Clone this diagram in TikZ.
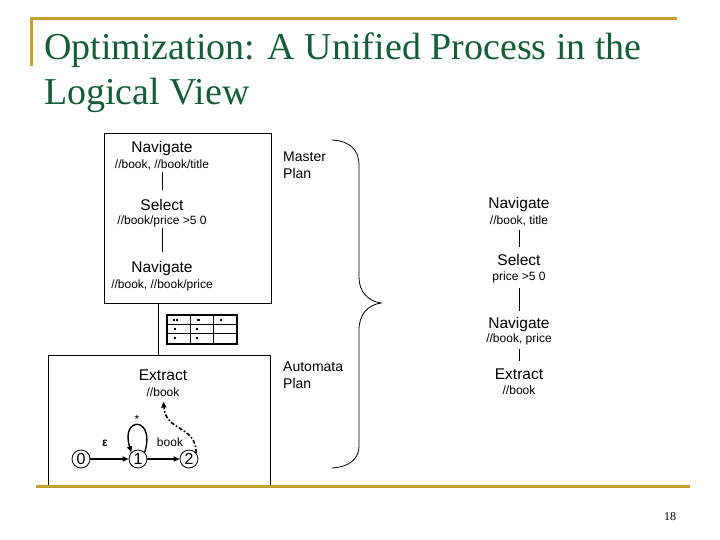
\documentclass[tikz,border=0pt]{standalone}
\usepackage{fontspec}
\setmainfont{Liberation Sans}
\newfontfamily\titlefont{Liberation Serif}
\usetikzlibrary{arrows.meta}
\definecolor{titlegreen}{RGB}{22,92,58}
\definecolor{gold}{RGB}{196,160,48}
\begin{document}
\begin{tikzpicture}[x=1pt,y=-1pt,
  optxt/.style={inner sep=0pt, anchor=base, font=\fontsize{15.5}{17}\selectfont},
  subtxt/.style={inner sep=0pt, anchor=base, font=\fontsize{12}{14}\selectfont},
  plantxt/.style={inner sep=0pt, anchor=north west, align=left, font=\fontsize{14}{16.5}\selectfont},
  titletxt/.style={inner sep=0pt, anchor=base west, text=titlegreen, font=\titlefont\fontsize{38}{45}\selectfont},
  link/.style={line width=0.8pt},
  box/.style={draw, line width=0.8pt, inner sep=0pt},
  state/.style={circle, draw, line width=0.8pt, minimum size=18pt, inner sep=0pt, font=\fontsize{16}{16}\selectfont},
  trans/.style={line width=1.4pt, -{Triangle[length=6pt,width=5pt]}},
  dashtrans/.style={line width=1.6pt, dash pattern=on 4pt off 2pt on 1.5pt off 2pt, -{Triangle[length=6pt,width=5pt]}},
  goldrule/.style={gold, line width=3pt},
  lbl/.style={inner sep=0pt, font=\fontsize{12}{14}\selectfont},
]
\useasboundingbox (0,0) rectangle (720,540);

% title frame
\draw[goldrule] (30,19) -- (677,19);
\draw[goldrule] (31,19) -- (31,66);
\node[titletxt] (t1) at (44,60) {Optimization: A Unified Process in the};
\node[titletxt] (t2) at (44,105) {Logical View};

% master box
\node[box, minimum width=167pt, minimum height=170pt] (master) at (187.5,218) {};
\node[optxt] (m1) at (162,152.5) {Navigate};
\node[subtxt] (m1s) at (162,168.3) {//book, //book/title};
\node[optxt] (m2) at (162,210.5) {Select};
\node[subtxt] (m2s) at (162,224.8) {//book/price >5 0};
\node[optxt] (m3) at (162,272.5) {Navigate};
\node[subtxt] (m3s) at (162,288.3) {//book, //book/price};
\draw[link, shorten <=1.9pt, shorten >=9.4pt] (m1s.south) -- (m2.north);
\draw[link, shorten <=0.7pt, shorten >=9.4pt] (m2s.south) -- (m3.north);

% extract box
\node[box, minimum width=222pt, minimum height=131pt] (ebox) at (159,420.5) {};
\node[optxt] (e1) at (163,380.5) {Extract};
\node[subtxt] (e1s) at (163,396.3) {//book};

% link between boxes
\coordinate (lk) at (158,0);
\draw[link] (master.south -| lk) -- (ebox.north -| lk);

% table
\draw[line width=2.2pt] (167,315) rectangle (237,344);
\draw[line width=0.8pt] (190,315) -- (190,344) (213,315) -- (213,344)
  (167,324) -- (237,324) (167,333) -- (237,333);
\fill (173.2,319.3) rectangle (174.6,320.7);
\fill (176.2,319.3) rectangle (177.6,320.7);
\fill (196.5,319.3) rectangle (199.5,320.7);
\fill (220.3,319.3) rectangle (221.7,320.7);
\fill (174.3,328.3) rectangle (175.7,329.7);
\fill (196.3,328.3) rectangle (197.7,329.7);
\fill (174.3,337.3) rectangle (175.7,338.7);
\fill (196.3,337.3) rectangle (197.7,338.7);

% automaton
\node[state] (s0) at (81,459) {0};
\node[state] (s1) at (138,459) {1};
\node[state] (s2) at (189,459) {2};
\draw[trans] (s0) -- (s1);
\draw[trans] (s1) -- (s2);
\draw[trans] (s1.45) .. controls (156,416) and (120,416) .. (s1.135);
\node[lbl, font=\bfseries\fontsize{12}{14}\selectfont] (eps) at (105,443) {ε};
\node[lbl] (star) at (137,419) {*};
\node[lbl] (booklbl) at (170,442) {book};
\draw[dashtrans, shorten >=5pt] (s2.40) .. controls (196,425) and (166,432) .. (e1s.south);

% brace
\draw[line width=0.8pt] (332,140) .. controls (350,141) and (359,150) .. (359,165)
  -- (359,277) .. controls (359,292) and (368,301) .. (381,303)
  .. controls (368,305) and (359,314) .. (359,330)
  -- (359,446) .. controls (359,460) and (348,467) .. (332,468);
\node[plantxt] (mp) at (283,152) {Master\\Plan};
\node[plantxt] (ap) at (283,362) {Automata\\Plan};

% right column
\node[optxt] (r1) at (519,208.5) {Navigate};
\node[subtxt] (r1s) at (519,224.3) {//book, title};
\node[optxt] (r2) at (519,265.5) {Select};
\node[subtxt] (r2s) at (519,280) {price >5 0};
\node[optxt] (r3) at (519,328.5) {Navigate};
\node[subtxt] (r3s) at (519,342) {//book, price};
\node[optxt] (r4) at (519,379.5) {Extract};
\node[subtxt] (r4s) at (519,394.3) {//book};
\draw[link, shorten <=3.9pt, shorten >=7.4pt] (r1s.south) -- (r2.north);
\draw[link, shorten <=5.5pt, shorten >=6.5pt] (r2s.south) -- (r3.north);
\draw[link, shorten <=4.5pt, shorten >=7.4pt] (r3s.south) -- (r4.north);

% bottom rule and page number
\draw[goldrule] (36,486) -- (690,486);
\node[inner sep=0pt, anchor=base, font=\titlefont\fontsize{12}{12}\selectfont] (pg) at (670,520) {18};
\end{tikzpicture}
\end{document}
